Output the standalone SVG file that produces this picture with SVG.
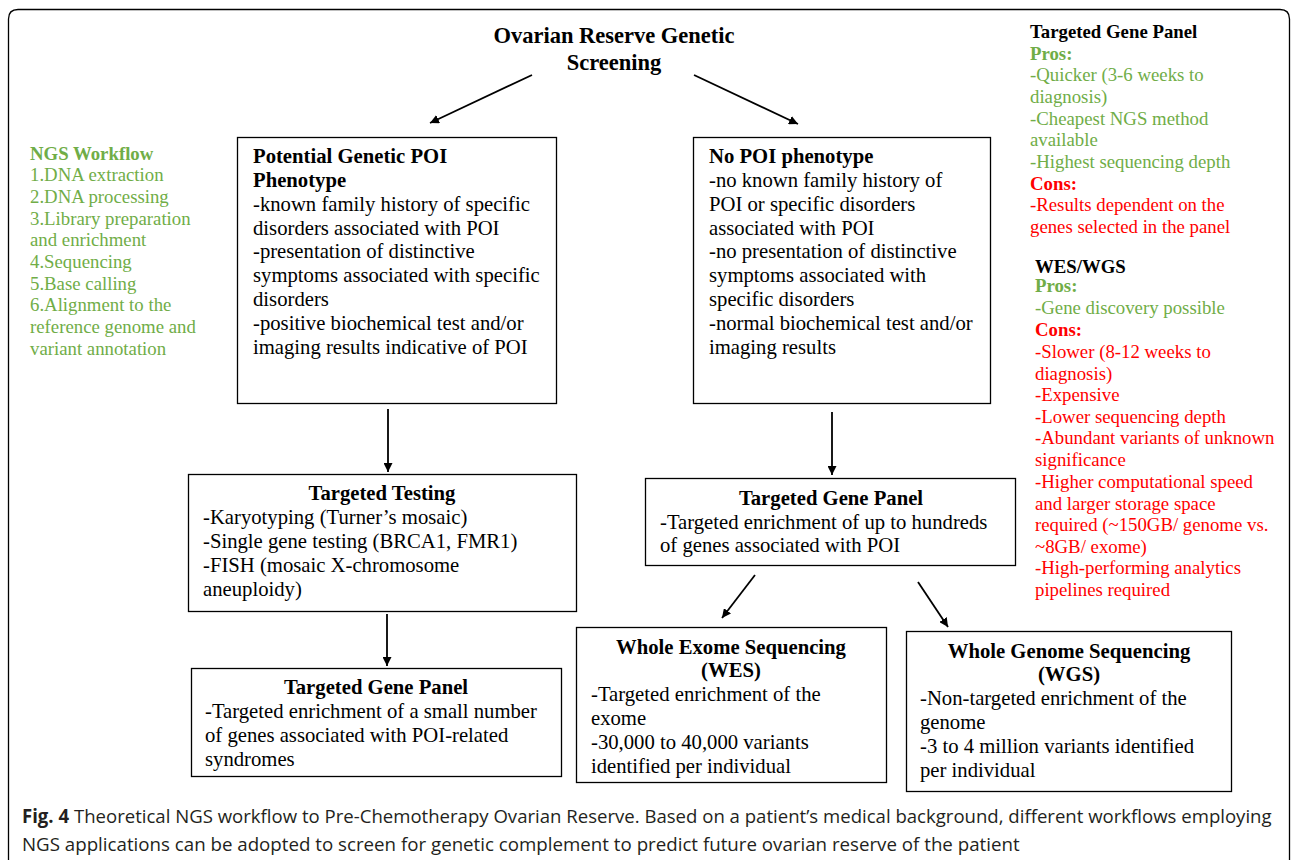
<svg xmlns="http://www.w3.org/2000/svg" width="1292" height="860" viewBox="0 0 1292 860">
<style>
text{font-family:"Liberation Serif","Times New Roman",serif;font-size:20.7px;fill:#000}
.b{font-weight:bold}
.t{font-size:22.5px;font-weight:bold}
.s{font-size:18.8px}
.g{fill:#70AD47}
.r{fill:#FF0000}
.box{fill:#fff;stroke:#000;stroke-width:1.3}
.c{text-anchor:middle}
.cap{font-family:"Open Sans","Liberation Sans",sans-serif;font-size:19px;fill:#231f20}
.conn line{stroke:#000;stroke-width:1.8}
</style>
<defs>
<marker id="ah" viewBox="0 0 10 10" refX="10" refY="5" markerWidth="9" markerHeight="9" markerUnits="userSpaceOnUse" orient="auto"><path d="M0,0 L10,5 L0,10 z" fill="#000"/></marker>
</defs>
<rect width="1292" height="860" fill="#fff"/>
<path d="M8.5,900 V19 Q8.5,9.5 18,9.5 H1280 Q1289.5,9.5 1289.5,19 V900" fill="none" stroke="#000" stroke-width="1.3"/>

<g id="title">
<text class="t c" x="614" y="43">Ovarian Reserve Genetic</text>
<text class="t c" x="614" y="70">Screening</text>
</g>

<g class="conn" id="connectors">
<line x1="532" y1="75" x2="430" y2="123" marker-end="url(#ah)"/>
<line x1="694" y1="75" x2="798" y2="124" marker-end="url(#ah)"/>
<line x1="388" y1="409" x2="388" y2="472" marker-end="url(#ah)"/>
<line x1="832" y1="412" x2="832" y2="475" marker-end="url(#ah)"/>
<line x1="387" y1="614" x2="387" y2="666" marker-end="url(#ah)"/>
<line x1="755" y1="575" x2="722" y2="618" marker-end="url(#ah)"/>
<line x1="918" y1="582" x2="948" y2="627" marker-end="url(#ah)"/>
</g>

<g id="ngs-workflow">
<text class="s b g" x="30" y="160">NGS Workflow</text>
<text class="s g" x="30" y="181">1.DNA extraction</text>
<text class="s g" x="30" y="203">2.DNA processing</text>
<text class="s g" x="30" y="225">3.Library preparation</text>
<text class="s g" x="30" y="246">and enrichment</text>
<text class="s g" x="30" y="268">4.Sequencing</text>
<text class="s g" x="30" y="290">5.Base calling</text>
<text class="s g" x="30" y="311">6.Alignment to the</text>
<text class="s g" x="30" y="333">reference genome and</text>
<text class="s g" x="30" y="355">variant annotation</text>
</g>

<g id="tgp-proscons">
<text class="s b" x="1030" y="38">Targeted Gene Panel</text>
<text class="s b g" x="1030" y="60">Pros:</text>
<text class="s g" x="1030" y="81">-Quicker (3-6 weeks to</text>
<text class="s g" x="1030" y="103">diagnosis)</text>
<text class="s g" x="1030" y="125">-Cheapest NGS method</text>
<text class="s g" x="1030" y="146">available</text>
<text class="s g" x="1030" y="168">-Highest sequencing depth</text>
<text class="s b r" x="1030" y="190">Cons:</text>
<text class="s r" x="1030" y="211">-Results dependent on the</text>
<text class="s r" x="1030" y="233">genes selected in the panel</text>
</g>

<g id="wes-wgs-proscons">
<text class="s b" x="1035" y="273">WES/WGS</text>
<text class="s b g" x="1035" y="292">Pros:</text>
<text class="s g" x="1035" y="314">-Gene discovery possible</text>
<text class="s b r" x="1035" y="336">Cons:</text>
<text class="s r" x="1035" y="358">-Slower (8-12 weeks to</text>
<text class="s r" x="1035" y="380">diagnosis)</text>
<text class="s r" x="1035" y="401">-Expensive</text>
<text class="s r" x="1035" y="423">-Lower sequencing depth</text>
<text class="s r" x="1035" y="444">-Abundant variants of unknown</text>
<text class="s r" x="1035" y="466">significance</text>
<text class="s r" x="1035" y="488">-Higher computational speed</text>
<text class="s r" x="1035" y="510">and larger storage space</text>
<text class="s r" x="1035" y="531">required (~150GB/ genome vs.</text>
<text class="s r" x="1035" y="553">~8GB/ exome)</text>
<text class="s r" x="1035" y="574">-High-performing analytics</text>
<text class="s r" x="1035" y="596">pipelines required</text>
</g>

<g id="poi-phenotype">
<rect class="box" x="237.5" y="137.5" width="319" height="266"/>
<text class="b" x="253" y="163">Potential Genetic POI</text>
<text class="b" x="253" y="187">Phenotype</text>
<text x="253" y="211">-known family history of specific</text>
<text x="253" y="235">disorders associated with POI</text>
<text x="253" y="258">-presentation of distinctive</text>
<text x="253" y="282">symptoms associated with specific</text>
<text x="253" y="306">disorders</text>
<text x="253" y="330">-positive biochemical test and/or</text>
<text x="253" y="354">imaging results indicative of POI</text>
</g>

<g id="no-poi-phenotype">
<rect class="box" x="693.5" y="137.5" width="297" height="266"/>
<text class="b" x="709" y="163">No POI phenotype</text>
<text x="709" y="187">-no known family history of</text>
<text x="709" y="211">POI or specific disorders</text>
<text x="709" y="235">associated with POI</text>
<text x="709" y="258">-no presentation of distinctive</text>
<text x="709" y="282">symptoms associated with</text>
<text x="709" y="306">specific disorders</text>
<text x="709" y="330">-normal biochemical test and/or</text>
<text x="709" y="354">imaging results</text>
</g>

<g id="targeted-testing">
<rect class="box" x="188.5" y="474.5" width="388" height="137"/>
<text class="b c" x="382" y="500">Targeted Testing</text>
<text x="203" y="524">-Karyotyping (Turner’s mosaic)</text>
<text x="203" y="548">-Single gene testing (BRCA1, FMR1)</text>
<text x="203" y="572">-FISH (mosaic X-chromosome</text>
<text x="203" y="596">aneuploidy)</text>
</g>

<g id="tgp-left">
<rect class="box" x="191.5" y="668.5" width="370" height="108"/>
<text class="b c" x="376" y="694">Targeted Gene Panel</text>
<text x="205" y="718">-Targeted enrichment of a small number</text>
<text x="205" y="742">of genes associated with POI-related</text>
<text x="205" y="766">syndromes</text>
</g>

<g id="tgp-right">
<rect class="box" x="645.5" y="478.5" width="370" height="87"/>
<text class="b c" x="831" y="505">Targeted Gene Panel</text>
<text x="660" y="529">-Targeted enrichment of up to hundreds</text>
<text x="660" y="552">of genes associated with POI</text>
</g>

<g id="wes">
<rect class="box" x="576.5" y="627.5" width="310" height="155"/>
<text class="b c" x="731" y="654">Whole Exome Sequencing</text>
<text class="b c" x="731" y="677">(WES)</text>
<text x="591" y="701">-Targeted enrichment of the</text>
<text x="591" y="725">exome</text>
<text x="591" y="749">-30,000 to 40,000 variants</text>
<text x="591" y="773">identified per individual</text>
</g>

<g id="wgs">
<rect class="box" x="906.5" y="631.5" width="325" height="160"/>
<text class="b c" x="1069" y="658">Whole Genome Sequencing</text>
<text class="b c" x="1069" y="681">(WGS)</text>
<text x="920" y="705">-Non-targeted enrichment of the</text>
<text x="920" y="729">genome</text>
<text x="920" y="753">-3 to 4 million variants identified</text>
<text x="920" y="777">per individual</text>
</g>

<g id="caption">
<text class="cap" transform="translate(22,823) scale(0.8,1)" x="0" y="0" textLength="1562" lengthAdjust="spacingAndGlyphs"><tspan font-weight="bold">Fig. 4</tspan> Theoretical NGS workflow to Pre-Chemotherapy Ovarian Reserve. Based on a patient’s medical background, different workflows employing</text>
<text class="cap" transform="translate(22,851) scale(0.8,1)" x="0" y="0" textLength="1247" lengthAdjust="spacingAndGlyphs">NGS applications can be adopted to screen for genetic complement to predict future ovarian reserve of the patient</text>
</g>
</svg>
